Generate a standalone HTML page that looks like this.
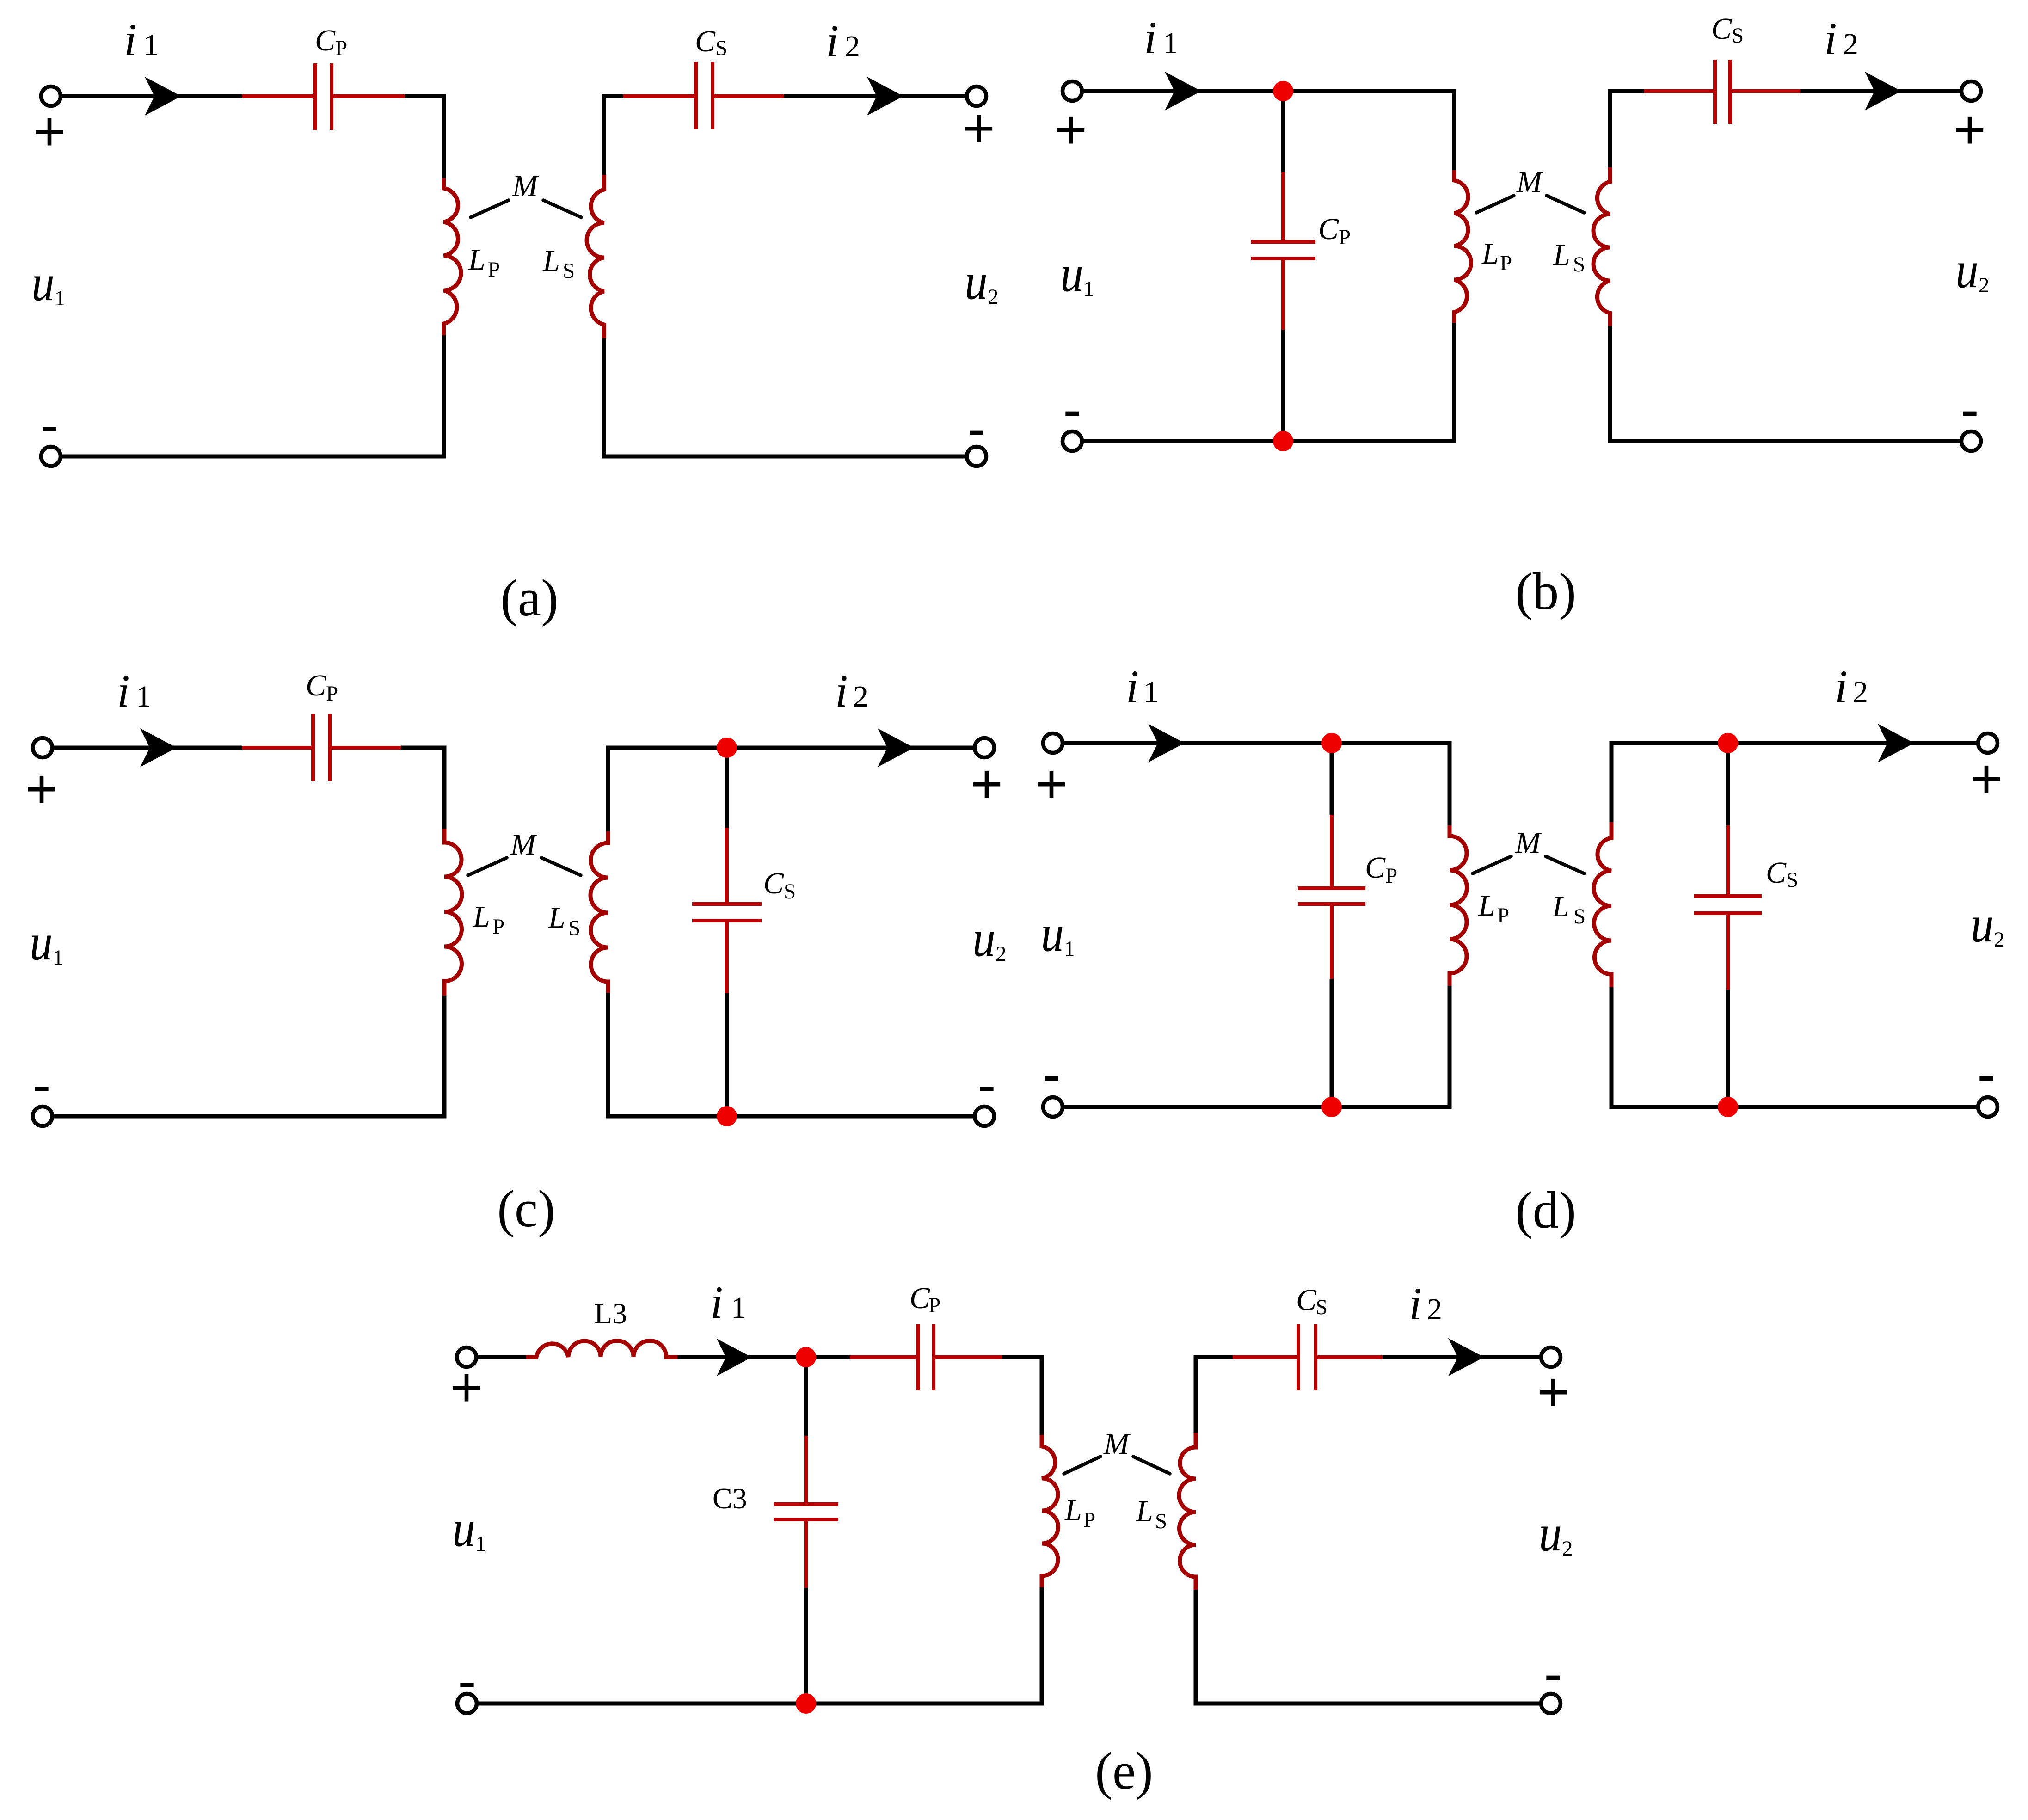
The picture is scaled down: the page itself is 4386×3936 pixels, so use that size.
<!DOCTYPE html>
<html><head><meta charset="utf-8"><style>
html,body{margin:0;padding:0;background:#fff}
svg{display:block}
text{font-family:"Liberation Serif",serif;fill:#000}
.it{font-style:italic}
.ii{font-style:italic;font-size:100px}
.n{font-size:66px}
.c{font-style:italic;font-size:66px}
.s{font-size:47px}
.u{font-style:italic;font-size:112px}
.p{font-family:"Liberation Sans",sans-serif;font-size:120px;text-anchor:middle}
.cap{font-size:113px;text-anchor:middle}
.k path{fill:none;stroke:#000;stroke-width:9}
.d path{fill:none;stroke:#000;stroke-width:7.5;stroke-linecap:round}
.r path{fill:none;stroke:#b80000;stroke-width:8}
.l path{fill:none;stroke:#a30000;stroke-width:9}
.t circle{fill:#fff;stroke:#000;stroke-width:8.5}
.j circle{fill:#ee0000}
.a path{fill:#000}
</style></head><body>
<svg xmlns="http://www.w3.org/2000/svg" width="4386" height="3936" viewBox="0 0 4386 3936">
<rect width="4386" height="3936" fill="#fff"/>

<!-- black wires -->
<g class="k">
<!-- a -->
<path d="M110 208H524M875 208H959.5V385M959.5 725V987H110"/>
<path d="M1348 208H1306.5V378M1306.5 732V987H2112M1695 208H2112"/>
<!-- b -->
<path d="M2319 197H3145V368M3145 698V954H2319M2775 197V372M2775 713V954"/>
<path d="M3555 197H3482V362M3482 705V954H4263M3893 197H4263"/>
<!-- c -->
<path d="M92 1617H523M867 1617H961V1792M961 2153V2414H92"/>
<path d="M2129 1617H1315V1798M1315 2147V2414H2129M1572 1617V1790M1572 2148V2414"/>
<!-- d -->
<path d="M2277 1607H3135V1785M3135 2132V2394H2277M2880 1607V1762M2880 2117V2394"/>
<path d="M4299 1607H3485V1778M3485 2135V2394H4299M3737 1607V1785M3737 2140V2394"/>
<!-- e -->
<path d="M1009 2935H1138M1465 2935H1838M2168 2935H2253V3103M2253 3433V3684H1010M1743 2935V3105M1743 3434V3684"/>
<path d="M2666 2935H2586V3098M2586 3438V3684H3354M2990 2935H3354"/>
</g>

<!-- capacitors -->
<g class="r">
<path d="M524 208H682M717 208H875M682 137V281M717 137V281"/>
<path d="M1348 208H1505M1541 208H1695M1505 134V280M1541 134V280"/>
<path d="M2775 372V523M2775 559V713M2705 523H2845M2705 559H2845"/>
<path d="M3555 197H3709M3742 197H3893M3709 129V268M3742 129V268"/>
<path d="M523 1617H677M713 1617H867M677 1544V1689M713 1544V1689"/>
<path d="M1572 1790V1955M1572 1991V2148M1497 1955H1647M1497 1991H1647"/>
<path d="M2880 1762V1921M2880 1955V2117M2807 1921H2953M2807 1955H2953"/>
<path d="M3737 1785V1938M3737 1975V2140M3664 1938H3810M3664 1975H3810"/>
<path d="M1838 2935H1986M2019 2935H2168M1986 2864V3007M2019 2864V3007"/>
<path d="M2666 2935H2808M2845 2935H2990M2808 2864V3007M2845 2864V3007"/>
<path d="M1743 3105V3253M1743 3286V3434M1673 3253H1813M1673 3286H1813"/>
</g>

<!-- inductors -->
<g class="l">
<path d="M959.5 385V407A37 37 0 0 1 959.5 480A37 37 0 0 1 959.5 553A37 37 0 0 1 959.5 628A37 37 0 0 1 959.5 700V725"/>
<path d="M1306.5 378V410A37 37 0 0 0 1306.5 482A37 37 0 0 0 1306.5 557A37 37 0 0 0 1306.5 630A37 37 0 0 0 1306.5 702V732"/>
<path d="M3145 368V390A36 36 0 0 1 3145 461A36 36 0 0 1 3145 532A36 36 0 0 1 3145 605A36 36 0 0 1 3145 675V698"/>
<path d="M3482 362V393A36 36 0 0 0 3482 463A36 36 0 0 0 3482 535A36 36 0 0 0 3482 607A36 36 0 0 0 3482 677V705"/>
<path d="M961 1792V1822A37 37 0 0 1 961 1896A37 37 0 0 1 961 1972A37 37 0 0 1 961 2047A37 37 0 0 1 961 2122V2153"/>
<path d="M1315 1798V1823A37 37 0 0 0 1315 1898A37 37 0 0 0 1315 1974A37 37 0 0 0 1315 2049A37 37 0 0 0 1315 2123V2147"/>
<path d="M3135 1785V1808A37 37 0 0 1 3135 1882A37 37 0 0 1 3135 1957A37 37 0 0 1 3135 2031A37 37 0 0 1 3135 2105V2132"/>
<path d="M3485 1778V1812A36 36 0 0 0 3485 1883A37 37 0 0 0 3485 1959A37 37 0 0 0 3485 2034A36 36 0 0 0 3485 2107V2135"/>
<path d="M2253 3103V3128A35 35 0 0 1 2253 3197A35 35 0 0 1 2253 3267A35 35 0 0 1 2253 3338A35 35 0 0 1 2253 3408V3433"/>
<path d="M2586 3098V3130A34 34 0 0 0 2586 3198A36 36 0 0 0 2586 3270A35 35 0 0 0 2586 3341A34 34 0 0 0 2586 3410V3438"/>
<path d="M1138 2935H1160A35 35 0 0 1 1229 2935A35 35 0 0 1 1299 2935A35 35 0 0 1 1370 2935A35 35 0 0 1 1441 2935H1465"/>
</g>

<!-- mutual coupling dashes -->
<g class="d">
<path d="M1018 470L1100 433M1175 433L1257 470"/>
<path d="M3193 460L3274 423M3345 423L3426 460"/>
<path d="M1012 1893L1096 1855M1171 1855L1256 1893"/>
<path d="M3185 1889L3268 1852M3343 1852L3426 1889"/>
<path d="M2301 3187L2380 3150M2451 3150L2530 3187"/>
</g>

<!-- arrowheads -->
<g class="a">
<path d="M392 208L313 166L334 208L313 250Z"/>
<path d="M1954 208L1875 166L1896 208L1875 250Z"/>
<path d="M2598 197L2519 155L2540 197L2519 239Z"/>
<path d="M4112 197L4033 155L4054 197L4033 239Z"/>
<path d="M382 1617L303 1575L324 1617L303 1659Z"/>
<path d="M1977 1617L1898 1575L1919 1617L1898 1659Z"/>
<path d="M2562 1607L2483 1565L2504 1607L2483 1649Z"/>
<path d="M4140 1607L4061 1565L4082 1607L4061 1649Z"/>
<path d="M1626 2935L1550 2895L1570 2935L1550 2976Z"/>
<path d="M3210 2935L3132 2894L3153 2935L3132 2976Z"/>
</g>

<!-- terminals -->
<g class="t">
<circle cx="110" cy="208" r="21"/><circle cx="110" cy="987" r="21"/><circle cx="2112" cy="208" r="21"/><circle cx="2112" cy="987" r="21"/>
<circle cx="2319" cy="197" r="21"/><circle cx="2319" cy="954" r="21"/><circle cx="4263" cy="197" r="21"/><circle cx="4263" cy="954" r="21"/>
<circle cx="92" cy="1617" r="21"/><circle cx="92" cy="2414" r="21"/><circle cx="2129" cy="1617" r="21"/><circle cx="2129" cy="2414" r="21"/>
<circle cx="2277" cy="1607" r="21"/><circle cx="2277" cy="2394" r="21"/><circle cx="4299" cy="1607" r="21"/><circle cx="4299" cy="2394" r="21"/>
<circle cx="1009" cy="2935" r="21"/><circle cx="1010" cy="3684" r="21"/><circle cx="3354" cy="2935" r="21"/><circle cx="3354" cy="3684" r="21"/>
</g>

<!-- junctions -->
<g class="j">
<circle cx="2775" cy="197" r="22"/><circle cx="2775" cy="954" r="22"/>
<circle cx="1572" cy="1617" r="22"/><circle cx="1572" cy="2414" r="22"/>
<circle cx="2880" cy="1607" r="22"/><circle cx="2880" cy="2394" r="22"/>
<circle cx="3737" cy="1607" r="22"/><circle cx="3737" cy="2394" r="22"/>
<circle cx="1743" cy="2935" r="22"/><circle cx="1743" cy="3684" r="22"/>
</g>

<!-- labels a -->
<text class="ii" x="268" y="119">i</text><text class="n" x="310" y="119">1</text>
<text class="ii" x="1786" y="122">i</text><text class="n" x="1827" y="122">2</text>
<text class="c" x="681" y="109">C</text><text class="s" x="725" y="119">P</text>
<text class="c" x="1503" y="111">C</text><text class="s" x="1547" y="119">S</text>
<text class="c" x="1108" y="424">M</text>
<text class="c" x="1013" y="583">L</text><text class="s" x="1055" y="598">P</text>
<text class="c" x="1174" y="586">L</text><text class="s" x="1217" y="601">S</text>
<text class="u" x="68" y="649" textLength="50" lengthAdjust="spacingAndGlyphs">u</text><text class="s" x="118" y="660">1</text>
<text class="u" x="2086" y="646" textLength="50" lengthAdjust="spacingAndGlyphs">u</text><text class="s" x="2136" y="657">2</text>
<text class="p" x="107" y="325">+</text><text class="p" x="107" y="960">-</text>
<text class="p" x="2117" y="318">+</text><text class="p" x="2112" y="968">-</text>
<text class="cap" x="1145" y="1331">(a)</text>

<!-- labels b -->
<text class="ii" x="2474" y="115">i</text><text class="n" x="2515" y="115">1</text>
<text class="ii" x="3945" y="117">i</text><text class="n" x="3986" y="117">2</text>
<text class="c" x="2851" y="517">C</text><text class="s" x="2895" y="528">P</text>
<text class="c" x="3701" y="84">C</text><text class="s" x="3745" y="92">S</text>
<text class="c" x="3280" y="415">M</text>
<text class="c" x="3205" y="570">L</text><text class="s" x="3244" y="584">P</text>
<text class="c" x="3359" y="573">L</text><text class="s" x="3402" y="587">S</text>
<text class="u" x="2293" y="629" textLength="50" lengthAdjust="spacingAndGlyphs">u</text><text class="s" x="2343" y="640">1</text>
<text class="u" x="4229" y="621" textLength="50" lengthAdjust="spacingAndGlyphs">u</text><text class="s" x="4279" y="632">2</text>
<text class="p" x="2316" y="321">+</text><text class="p" x="2319" y="926">-</text>
<text class="p" x="4260" y="321">+</text><text class="p" x="4260" y="926">-</text>
<text class="cap" x="3343" y="1317">(b)</text>

<!-- labels c -->
<text class="ii" x="253" y="1528">i</text><text class="n" x="294" y="1528">1</text>
<text class="ii" x="1806" y="1528">i</text><text class="n" x="1845" y="1528">2</text>
<text class="c" x="661" y="1504">C</text><text class="s" x="705" y="1515">P</text>
<text class="c" x="1651" y="1932">C</text><text class="s" x="1695" y="1943">S</text>
<text class="c" x="1104" y="1848">M</text>
<text class="c" x="1023" y="2004">L</text><text class="s" x="1065" y="2019">P</text>
<text class="c" x="1186" y="2006">L</text><text class="s" x="1229" y="2022">S</text>
<text class="u" x="64" y="2075" textLength="50" lengthAdjust="spacingAndGlyphs">u</text><text class="s" x="114" y="2086">1</text>
<text class="u" x="2103" y="2067" textLength="50" lengthAdjust="spacingAndGlyphs">u</text><text class="s" x="2153" y="2078">2</text>
<text class="p" x="90" y="1747">+</text><text class="p" x="90" y="2387">-</text>
<text class="p" x="2134" y="1736">+</text><text class="p" x="2134" y="2387">-</text>
<text class="cap" x="1138" y="2652">(c)</text>

<!-- labels d -->
<text class="ii" x="2435" y="1518">i</text><text class="n" x="2473" y="1518">1</text>
<text class="ii" x="3968" y="1518">i</text><text class="n" x="4007" y="1518">2</text>
<text class="c" x="2952" y="1898">C</text><text class="s" x="2996" y="1909">P</text>
<text class="c" x="3819" y="1909">C</text><text class="s" x="3863" y="1918">S</text>
<text class="c" x="3277" y="1844">M</text>
<text class="c" x="3197" y="1980">L</text><text class="s" x="3238" y="1995">P</text>
<text class="c" x="3357" y="1982">L</text><text class="s" x="3403" y="1997">S</text>
<text class="u" x="2251" y="2056" textLength="50" lengthAdjust="spacingAndGlyphs">u</text><text class="s" x="2301" y="2067">1</text>
<text class="u" x="4262" y="2036" textLength="50" lengthAdjust="spacingAndGlyphs">u</text><text class="s" x="4312" y="2047">2</text>
<text class="p" x="2274" y="1736">+</text><text class="p" x="2274" y="2364">-</text>
<text class="p" x="4296" y="1725">+</text><text class="p" x="4296" y="2364">-</text>
<text class="cap" x="3343" y="2655">(d)</text>

<!-- labels e -->
<text class="ii" x="1536" y="2850">i</text><text class="n" x="1581" y="2850">1</text>
<text class="ii" x="3047" y="2853">i</text><text class="n" x="3086" y="2853">2</text>
<text x="1285" y="2862" font-size="64">L3</text>
<text x="1541" y="3262" font-size="64">C3</text>
<text class="c" x="1967" y="2829">C</text><text class="s" x="2008" y="2838">P</text>
<text class="c" x="2803" y="2833">C</text><text class="s" x="2845" y="2842">S</text>
<text class="c" x="2387" y="3144">M</text>
<text class="c" x="2303" y="3287">L</text><text class="s" x="2343" y="3302">P</text>
<text class="c" x="2457" y="3290">L</text><text class="s" x="2498" y="3305">S</text>
<text class="u" x="978" y="3343" textLength="50" lengthAdjust="spacingAndGlyphs">u</text><text class="s" x="1028" y="3354">1</text>
<text class="u" x="3328" y="3353" textLength="50" lengthAdjust="spacingAndGlyphs">u</text><text class="s" x="3378" y="3364">2</text>
<text class="p" x="1009" y="3041">+</text><text class="p" x="1010" y="3676">-</text>
<text class="p" x="3359" y="3051">+</text><text class="p" x="3359" y="3660">-</text>
<text class="cap" x="2431" y="3868">(e)</text>
</svg>
</body></html>
